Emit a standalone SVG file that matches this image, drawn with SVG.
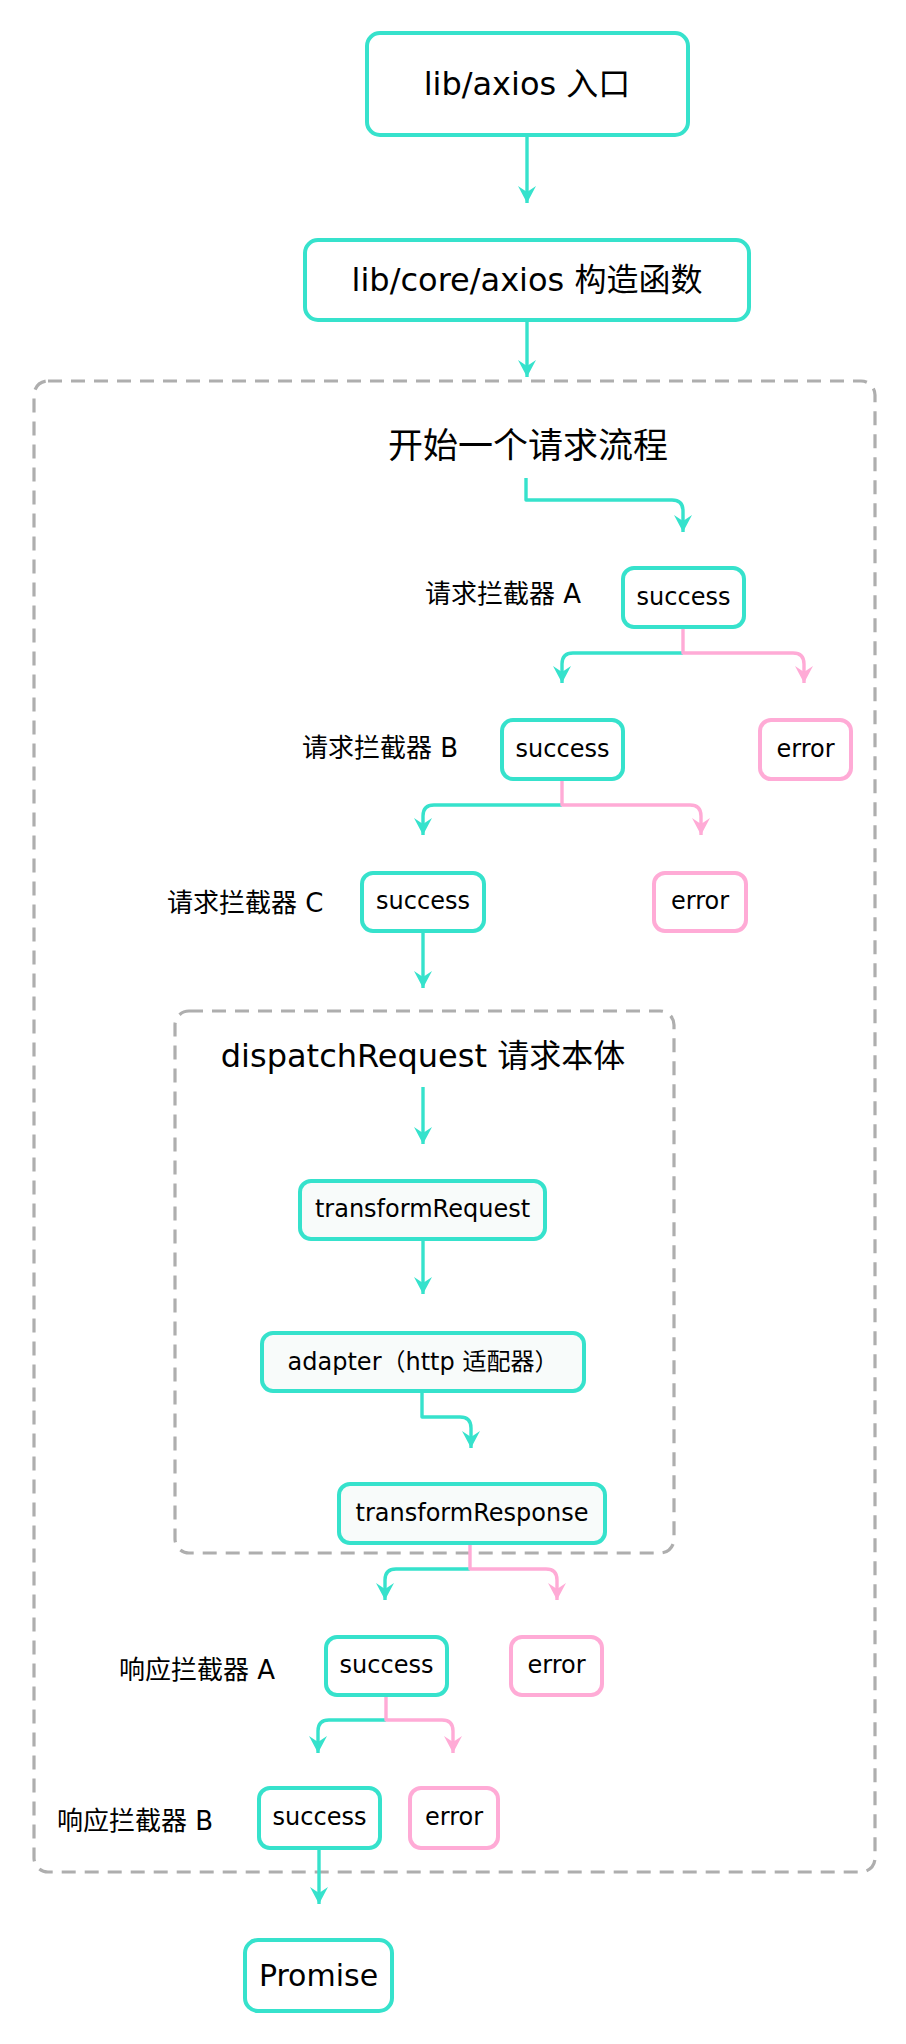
<svg xmlns="http://www.w3.org/2000/svg" width="906" height="2044" viewBox="0 0 906 2044">
<style>
  .node{fill:#ffffff;stroke:#36e2cc;stroke-width:4}
  .inner{fill:#f8fbfa}
  .err{fill:#ffffff;stroke:#ffabd6;stroke-width:4}
  .group{fill:none;stroke:#aeaeae;stroke-width:3.2;stroke-dasharray:14 9}
  .t{font-family:"DejaVu Sans","Noto Sans CJK SC",sans-serif;fill:#000000}
  .nt{font-size:24px;text-anchor:middle}
  .lbl{font-size:26px}
  .ct{fill:none;stroke:#36e2cc;stroke-width:3.4;stroke-linejoin:round}
  .cp{fill:none;stroke:#ffabd6;stroke-width:3.4;stroke-linejoin:round}
</style>
<defs>
  <marker id="at" markerUnits="userSpaceOnUse" markerWidth="20" markerHeight="20" viewBox="-1 -10 19 20" refX="17" refY="0" orient="auto">
    <path d="M0,-9 L17,0 L0,9 L6,0 Z" fill="#36e2cc"/>
  </marker>
  <marker id="ap" markerUnits="userSpaceOnUse" markerWidth="20" markerHeight="20" viewBox="-1 -10 19 20" refX="17" refY="0" orient="auto">
    <path d="M0,-9 L17,0 L0,9 L6,0 Z" fill="#ffabd6"/>
  </marker>
</defs>
<rect width="906" height="2044" fill="#ffffff"/>

<g id="groups">
  <rect id="request-flow" class="group" x="34" y="381" width="841" height="1491" rx="14"/>
  <rect id="dispatch-request" class="group" x="175" y="1011" width="499" height="542" rx="14" fill="#f8fbfa"/>
</g>

<g id="connectors">
  <path class="ct" d="M527,135 V203" marker-end="url(#at)"/>
  <path class="ct" d="M527,320 V377" marker-end="url(#at)"/>
  <path class="ct" d="M526,478 V500 H672 Q683,500 683,511 V532" marker-end="url(#at)"/>
  <path class="ct" d="M683,653 H573 Q562,653 562,664 V683" marker-end="url(#at)"/>
  <path class="cp" d="M683,628 V653 H793 Q804,653 804,664 V683" marker-end="url(#ap)"/>
  <path class="ct" d="M562,805 H434 Q423,805 423,816 V835" marker-end="url(#at)"/>
  <path class="cp" d="M562,780 V805 H690 Q701,805 701,816 V835" marker-end="url(#ap)"/>
  <path class="ct" d="M423,932 V988" marker-end="url(#at)"/>
  <path class="ct" d="M423,1087 V1144" marker-end="url(#at)"/>
  <path class="ct" d="M423,1239 V1294" marker-end="url(#at)"/>
  <path class="ct" d="M422,1392 V1417 H460 Q471,1417 471,1428 V1448" marker-end="url(#at)"/>
  <path class="ct" d="M470,1569 H396 Q385,1569 385,1580 V1600" marker-end="url(#at)"/>
  <path class="cp" d="M470,1544 V1569 H546 Q557,1569 557,1580 V1600" marker-end="url(#ap)"/>
  <path class="ct" d="M386,1720 H329 Q318,1720 318,1731 V1753" marker-end="url(#at)"/>
  <path class="cp" d="M386,1696 V1720 H442 Q453,1720 453,1731 V1753" marker-end="url(#ap)"/>
  <path class="ct" d="M319,1849 V1904" marker-end="url(#at)"/>
</g>

<g id="axios-entry">
  <rect class="node" x="367" y="33" width="321" height="102" rx="13"/>
  <text class="t" x="527" y="95" font-size="32" text-anchor="middle">lib/axios 入口</text>
</g>
<g id="axios-constructor">
  <rect class="node" x="305" y="240" width="444" height="80" rx="13"/>
  <text class="t" x="527" y="291" font-size="32" text-anchor="middle">lib/core/axios 构造函数</text>
</g>
<g id="flow-title">
  <text class="t" x="528" y="458" font-size="35" text-anchor="middle">开始一个请求流程</text>
</g>

<g id="req-a">
  <text class="t lbl" x="425" y="603">请求拦截器 A</text>
  <rect class="node" x="623" y="568" width="121" height="59" rx="11"/>
  <text class="t nt" x="683.5" y="605">success</text>
</g>
<g id="req-b">
  <text class="t lbl" x="302" y="757">请求拦截器 B</text>
  <rect class="node" x="502" y="720" width="121" height="59" rx="11"/>
  <text class="t nt" x="562.5" y="757">success</text>
</g>
<g id="req-b-error">
  <rect class="err" x="760" y="720" width="91" height="59" rx="11"/>
  <text class="t nt" x="805.5" y="757">error</text>
</g>
<g id="req-c">
  <text class="t lbl" x="167" y="912">请求拦截器 C</text>
  <rect class="node" x="362" y="873" width="122" height="58" rx="11"/>
  <text class="t nt" x="423" y="909">success</text>
</g>
<g id="req-c-error">
  <rect class="err" x="654" y="873" width="92" height="58" rx="11"/>
  <text class="t nt" x="700" y="909">error</text>
</g>

<g id="dispatch-title">
  <text class="t" x="423" y="1067" font-size="32" text-anchor="middle">dispatchRequest 请求本体</text>
</g>
<g id="transform-request">
  <rect class="node inner" x="300" y="1181" width="245" height="58" rx="11"/>
  <text class="t nt" x="422.5" y="1217">transformRequest</text>
</g>
<g id="adapter">
  <rect class="node inner" x="262" y="1333" width="322" height="58" rx="11"/>
  <text class="t nt" x="423" y="1370">adapter（http 适配器）</text>
</g>
<g id="transform-response">
  <rect class="node inner" x="339" y="1484" width="266" height="59" rx="11"/>
  <text class="t nt" x="472" y="1521">transformResponse</text>
</g>

<g id="res-a">
  <text class="t lbl" x="119" y="1679">响应拦截器 A</text>
  <rect class="node" x="326" y="1637" width="121" height="58" rx="11"/>
  <text class="t nt" x="386.5" y="1673">success</text>
</g>
<g id="res-a-error">
  <rect class="err" x="511" y="1637" width="91" height="58" rx="11"/>
  <text class="t nt" x="556.5" y="1673">error</text>
</g>
<g id="res-b">
  <text class="t lbl" x="57" y="1830">响应拦截器 B</text>
  <rect class="node" x="259" y="1788" width="121" height="60" rx="11"/>
  <text class="t nt" x="319.5" y="1825">success</text>
</g>
<g id="res-b-error">
  <rect class="err" x="410" y="1788" width="88" height="60" rx="11"/>
  <text class="t nt" x="454" y="1825">error</text>
</g>
<g id="promise">
  <rect class="node" x="245" y="1940" width="147" height="71" rx="13"/>
  <text class="t" x="318.5" y="1986" font-size="30" text-anchor="middle">Promise</text>
</g>
</svg>
